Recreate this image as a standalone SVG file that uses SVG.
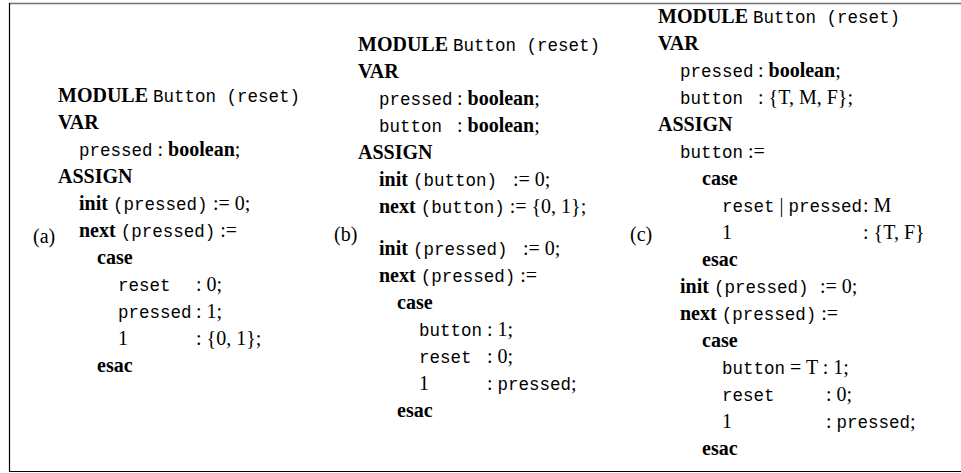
<svg xmlns="http://www.w3.org/2000/svg" width="961" height="473" viewBox="0 0 961 473">
<style>
.t{font-family:"Liberation Serif","Times New Roman",serif;font-size:20px;fill:#000}
.b{font-weight:bold}
.m{font-family:"Liberation Mono","Courier New",monospace;font-size:17.5px}
</style>
<rect width="961" height="473" fill="#fff"/>
<g id="frame" fill="none">
<line x1="9" y1="3.5" x2="961" y2="3.5" stroke="#707070" stroke-width="1.5"/>
<line x1="9.5" y1="3" x2="9.5" y2="472" stroke="#000" stroke-width="1.2"/>
<line x1="9" y1="471.5" x2="961" y2="471.5" stroke="#000" stroke-width="1.2"/>
</g>
<g id="panel-a" class="t">
<text x="33" y="243">(a)</text>
<text x="58" y="102"><tspan class="b">MODULE</tspan> <tspan class="m">Button (reset)</tspan></text>
<text x="58" y="129" class="b">VAR</text>
<text x="79" y="156"><tspan class="m">pressed</tspan> : <tspan class="b">boolean</tspan>;</text>
<text x="58" y="183" class="b">ASSIGN</text>
<text x="79" y="210"><tspan class="b">init</tspan> <tspan class="m">(pressed)</tspan><tspan x="213">:= 0;</tspan></text>
<text x="79" y="237"><tspan class="b">next</tspan> <tspan class="m">(pressed)</tspan> :=</text>
<text x="97" y="264" class="b">case</text>
<text x="118" y="291"><tspan class="m">reset</tspan><tspan x="196">: 0;</tspan></text>
<text x="118" y="318"><tspan class="m">pressed</tspan><tspan x="196">: 1;</tspan></text>
<text x="118" y="345">1<tspan x="196">: {0, 1};</tspan></text>
<text x="97" y="372" class="b">esac</text>
</g>
<g id="panel-b" class="t">
<text x="334" y="241">(b)</text>
<text x="358" y="51"><tspan class="b">MODULE</tspan> <tspan class="m">Button (reset)</tspan></text>
<text x="358" y="78" class="b">VAR</text>
<text x="379" y="105"><tspan class="m">pressed</tspan><tspan x="457">: </tspan><tspan class="b">boolean</tspan>;</text>
<text x="379" y="132"><tspan class="m">button</tspan><tspan x="457">: </tspan><tspan class="b">boolean</tspan>;</text>
<text x="358" y="159" class="b">ASSIGN</text>
<text x="379" y="186"><tspan class="b">init</tspan> <tspan class="m">(button)</tspan><tspan x="513">:= 0;</tspan></text>
<text x="379" y="213"><tspan class="b">next</tspan> <tspan class="m">(button)</tspan> := {0, 1};</text>
<text x="379" y="255"><tspan class="b">init</tspan> <tspan class="m">(pressed)</tspan><tspan x="523">:= 0;</tspan></text>
<text x="379" y="282"><tspan class="b">next</tspan> <tspan class="m">(pressed)</tspan> :=</text>
<text x="397" y="309" class="b">case</text>
<text x="419" y="336"><tspan class="m">button</tspan><tspan x="487">: 1;</tspan></text>
<text x="419" y="363"><tspan class="m">reset</tspan><tspan x="487">: 0;</tspan></text>
<text x="419" y="390">1<tspan x="487">: </tspan><tspan class="m">pressed</tspan>;</text>
<text x="397" y="417" class="b">esac</text>
</g>
<g id="panel-c" class="t">
<text x="630" y="241">(c)</text>
<text x="658" y="23"><tspan class="b">MODULE</tspan> <tspan class="m">Button (reset)</tspan></text>
<text x="658" y="50" class="b">VAR</text>
<text x="680" y="77"><tspan class="m">pressed</tspan><tspan x="758">: </tspan><tspan class="b">boolean</tspan>;</text>
<text x="680" y="104"><tspan class="m">button</tspan><tspan x="758">: {T, M, F};</tspan></text>
<text x="658" y="131" class="b">ASSIGN</text>
<text x="680" y="158"><tspan class="m">button</tspan> :=</text>
<text x="702" y="185" class="b">case</text>
<text x="722" y="212"><tspan class="m">reset</tspan> | <tspan class="m">pressed</tspan><tspan x="863">: M</tspan></text>
<text x="722" y="239">1<tspan x="863">: {T, F}</tspan></text>
<text x="702" y="266" class="b">esac</text>
<text x="680" y="293"><tspan class="b">init</tspan> <tspan class="m">(pressed)</tspan><tspan x="820">:= 0;</tspan></text>
<text x="680" y="320"><tspan class="b">next</tspan> <tspan class="m">(pressed)</tspan> :=</text>
<text x="702" y="347" class="b">case</text>
<text x="722" y="374"><tspan class="m">button</tspan> = T : 1;</text>
<text x="722" y="401"><tspan class="m">reset</tspan><tspan x="826">: 0;</tspan></text>
<text x="722" y="428">1<tspan x="826">: </tspan><tspan class="m">pressed</tspan>;</text>
<text x="702" y="455" class="b">esac</text>
</g>
</svg>
